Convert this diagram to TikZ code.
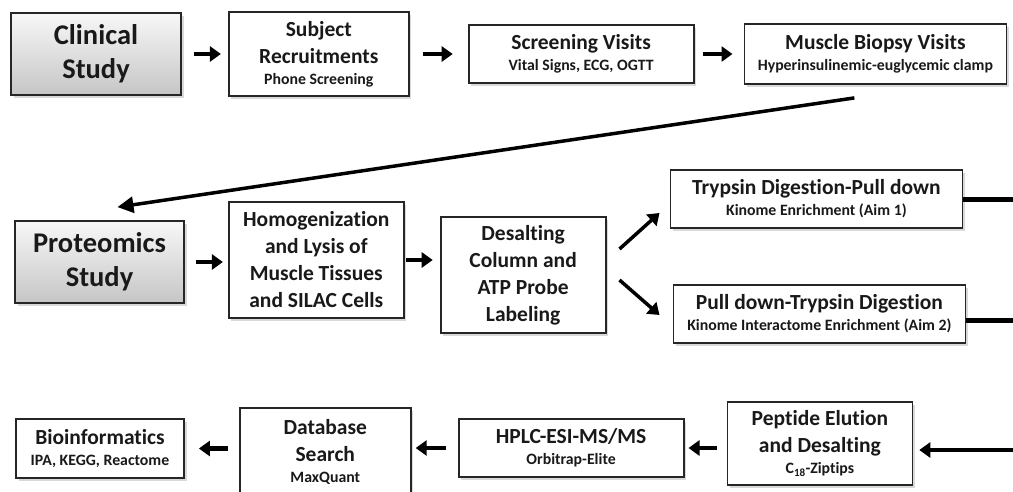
\documentclass[tikz,border=0pt]{standalone}
\usepackage{fontspec}
\setmainfont{Carlito}[Ligatures=NoCommon]
\usetikzlibrary{arrows.meta,positioning,calc,shadows}

\newcommand{\subline}[1]{{\fontsize{15.8}{18}\selectfont #1}}

\begin{document}
\begin{tikzpicture}[
    x=1pt, y=1pt,
    font=\bfseries\fontsize{21.5}{27}\selectfont,
    stepbox/.style={rectangle, draw=black!85, line width=1.8pt, fill=white, align=center, inner sep=2pt, text=black!90, drop shadow={shadow xshift=2.5pt, shadow yshift=-2.5pt, opacity=0.3}},
    studybox/.style={stepbox, top color=gray!6, bottom color=gray!45, font=\bfseries\fontsize{28.5}{34}\selectfont},
    arr/.style={line width=4.5pt, -{Triangle[length=11pt,width=15pt]}},
    link/.style={line width=5pt}
]
\useasboundingbox (0,0) rectangle (1013,-491);

% Clinical study
\node[studybox, minimum width=170pt, minimum height=82pt] (clin) at (96,-54) {Clinical\\Study};
\node[stepbox, minimum width=180pt, minimum height=84pt, right=46pt of clin] (recruit) {Subject\\Recruitments\\[-6pt]\subline{Phone Screening}};
\node[stepbox, minimum width=225pt, minimum height=58pt, right=58pt of recruit] (screen) {Screening Visits\\[-6pt]\subline{Vital Signs, ECG, OGTT}};
\node[stepbox, minimum width=262pt, minimum height=60pt, right=49pt of screen] (biopsy) {Muscle Biopsy Visits\\[-6pt]\subline{Hyperinsulinemic-euglycemic clamp}};

% Proteomics study
\node[studybox, minimum width=169pt, minimum height=82pt] (proteo) at (99.5,-262) {Proteomics\\Study};
\node[stepbox, minimum width=175pt, minimum height=116pt, right=43pt of proteo, yshift=2pt] (homog) {Homogenization\\and Lysis of\\Muscle Tissues\\and SILAC Cells};
\node[stepbox, minimum width=165pt, minimum height=116pt, right=35pt of homog, yshift=-15pt] (desalt) {Desalting\\Column and\\ATP Probe\\Labeling};
\node[stepbox, minimum width=292pt, minimum height=58pt, right=63pt of desalt, yshift=76pt] (trypsin) {Trypsin Digestion-Pull down\\[-6pt]\subline{Kinome Enrichment (Aim 1)}};
\node[stepbox, minimum width=292pt, minimum height=58pt, right=66pt of desalt, yshift=-39pt] (pulldown) {Pull down-Trypsin Digestion\\[-6pt]\subline{Kinome Interactome Enrichment (Aim 2)}};

% Analysis
\node[stepbox, minimum width=168pt, minimum height=59pt] (bioinf) at (100,-448.5) {Bioinformatics\\[-6pt]\subline{IPA, KEGG, Reactome}};
\node[stepbox, minimum width=171pt, minimum height=88pt, right=54pt of bioinf, yshift=-3.5pt] (dbsearch) {Database\\Search\\[-6pt]\subline{MaxQuant}};
\node[stepbox, minimum width=225pt, minimum height=58pt, right=46pt of dbsearch, yshift=4pt] (hplc) {HPLC-ESI-MS/MS\\[-6pt]\subline{Orbitrap-Elite}};
\node[stepbox, minimum width=185pt, minimum height=83pt, right=42pt of hplc, yshift=4.5pt] (peptide) {Peptide Elution\\and Desalting\\[-6pt]\subline{C\textsubscript{18}-Ziptips}};

% Edge points
\coordinate (outA) at (1016,-199);
\coordinate (outB) at (1016,-320);
\coordinate (outC) at (1016,-450);

% Connections
\draw[arr, shorten <=12pt, shorten >=7pt] (clin) -- (recruit);
\draw[arr, shorten <=13pt, shorten >=15pt] (recruit) -- (screen);
\draw[arr, shorten <=8pt, shorten >=11pt] (screen) -- (biopsy);
\draw[arr, line width=3.5pt, -{Triangle[length=16pt,width=16pt]}] ($(biopsy.south)+(-21,-13)$) -- ($(proteo.north)+(18,13)$);

\draw[arr, shorten <=11pt, shorten >=5pt] (proteo.east) -- (proteo.east -| homog.west);
\draw[arr, shorten <=1pt, shorten >=7pt] (homog.east) -- (homog.east -| desalt.west);
\draw[arr, line width=3.5pt] ($(desalt.east)+(13,26)$) -- ($(trypsin.west)+(-10,-14)$);
\draw[arr, line width=3.5pt] ($(desalt.east)+(13,-5)$) -- ($(pulldown.west)+(-13,-1)$);
\draw[link] (trypsin) -- (outA);
\draw[link] (pulldown.east |- outB) -- (outB);

\draw[arr, line width=4pt, shorten >=6pt] (outC) -- (peptide.east |- outC);
\draw[arr, shorten <=10pt, shorten >=4pt] (peptide.west |- hplc) -- (hplc.east);
\draw[arr, shorten <=12pt, shorten >=4pt] (hplc.west) -- (hplc.west -| dbsearch.east);
\draw[arr, shorten <=11pt, shorten >=14pt] (dbsearch.west |- bioinf) -- (bioinf.east);

\end{tikzpicture}
\end{document}
